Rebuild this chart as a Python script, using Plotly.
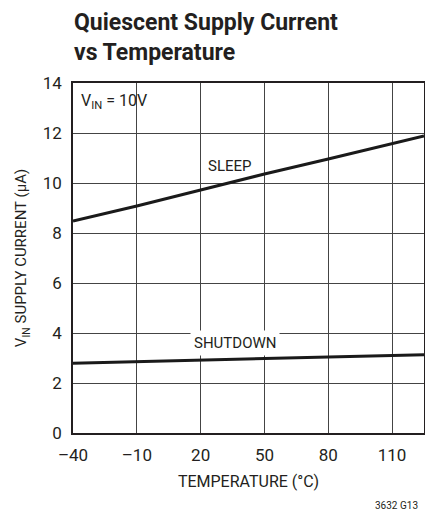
import plotly.graph_objects as go

temp = [-40, -10, 20, 50, 80, 110, 125]
sleep = [8.48, 9.08, 9.72, 10.36, 10.96, 11.56, 11.88]
shutdown = [2.79, 2.85, 2.91, 2.96, 3.03, 3.09, 3.13]
x_ticks = [-40, -10, 20, 50, 80, 110]
x_labels = ["–40", "–10", "20", "50", "80", "110"]
y_ticks = [0, 2, 4, 6, 8, 10, 12, 14]

FONT = "Roboto, Liberation Sans, sans-serif"

fig = go.Figure()
fig.add_trace(go.Scatter(x=temp, y=sleep, mode="lines",
                         line=dict(color="#1a1a1a", width=3), showlegend=False))
fig.add_trace(go.Scatter(x=temp, y=shutdown, mode="lines",
                         line=dict(color="#1a1a1a", width=3), showlegend=False))

fig.update_layout(
    width=425, height=516,
    margin=dict(l=73, r=1, t=83, b=83, autoexpand=False),
    paper_bgcolor="white", plot_bgcolor="white",
    font=dict(family=FONT, color="#231f20", size=16),
    annotations=[
        dict(text="<b>Quiescent Supply Current<br>vs Temperature</b>", xref="paper", yref="paper",
             x=0, y=1, xshift=-1, yshift=76, xanchor="left", yanchor="top", align="left",
             showarrow=False, font=dict(size=23, family=FONT, color="#231f20")),
        dict(text="V<sub>IN</sub> = 10V", x=-37, y=13.75, xanchor="left", yanchor="top",
             showarrow=False, font=dict(size=16, family=FONT)),
        dict(text="SLEEP", x=34, y=10.7, xanchor="center", yanchor="middle",
             showarrow=False, font=dict(size=15, family=FONT)),
        dict(text="SHUTDOWN", x=36, y=3.6, xanchor="center", yanchor="middle",
             showarrow=False, bgcolor="white", borderpad=3, font=dict(size=15, family=FONT)),
        dict(text="3632 G13", xref="paper", yref="paper", x=1, y=0, xshift=-4, yshift=-80,
             xanchor="right", yanchor="bottom", showarrow=False, font=dict(size=10, family=FONT)),
    ],
    xaxis=dict(range=[-40, 125], tickvals=x_ticks, ticktext=x_labels, automargin=False,
               showgrid=True, gridcolor="#444", gridwidth=1, zeroline=False,
               showline=True, linecolor="#231f20", linewidth=1.5, mirror=True, ticks="",
               ticklabelstandoff=6,
               tickfont=dict(size=17), title=dict(text="TEMPERATURE (°C)", font=dict(size=16), standoff=12)),
    yaxis=dict(range=[0, 14], tickvals=y_ticks, showgrid=True, gridcolor="#444", gridwidth=1,
               zeroline=False, showline=True, linecolor="#231f20", linewidth=1.5, mirror=True,
               ticks="", tickfont=dict(size=17), automargin=False, ticklabelstandoff=6,
               title=dict(text="V<sub>IN</sub> SUPPLY CURRENT (µA)", font=dict(size=15), standoff=12)),
)

fig.write_html("out.html", config={"displayModeBar": False},
               post_script="document.body.style.margin='0';document.body.style.overflow='hidden';")
